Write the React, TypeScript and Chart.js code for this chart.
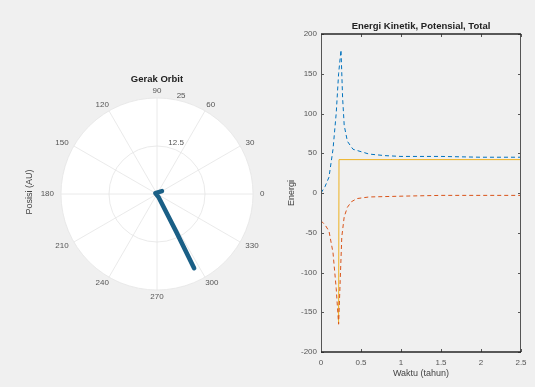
import React, { useEffect, useRef } from 'react';
import { Chart, registerables } from 'chart.js';

Chart.register(...registerables);

// ---------- Polar (orbit) data ----------
const orbitTheta = [30, 150, 297, 297, 296.6];
const orbitR = [1.5, 0.5, 1.0, 11, 21.6];
const polarAngleTicks = [0, 30, 60, 90, 120, 150, 180, 210, 240, 270, 300, 330];
const polarRTicks = [12.5, 25];
const polarRMax = 25;

// ---------- Energy data ----------
const timeK = [0, 0.05, 0.1, 0.15, 0.19, 0.22, 0.25, 0.27, 0.29, 0.33, 0.4, 0.6, 0.8, 1.0, 1.5, 2.0, 2.5];
const energyK = [0, 8, 20, 55, 100, 150, 180, 120, 85, 65, 55, 49, 47, 46, 46, 45, 45];
const timeU = [0, 0.05, 0.1, 0.15, 0.19, 0.22, 0.24, 0.26, 0.29, 0.33, 0.38, 0.45, 0.6, 1.0, 1.5, 2.0, 2.5];
const energyU = [-35, -40, -48, -75, -120, -165, -110, -55, -30, -18, -11, -7, -5, -4, -3, -3, -3];
const timeE = [0.22, 0.225, 0.5, 1.0, 1.5, 2.0, 2.5];
const energyE = [-165, 42, 42, 42, 42, 42, 42];
const xTicks = [0, 0.5, 1, 1.5, 2, 2.5];
const yTicks = [-200, -150, -100, -50, 0, 50, 100, 150, 200];

const FONT = '"Liberation Sans", Arial, Helvetica, sans-serif';

const toXY = (xs: number[], ys: number[]) => xs.map((x, i) => ({ x, y: ys[i] }));

const polarPlugin = {
  id: 'polarGrid',
  beforeDatasetsDraw(chart: any) {
    const { ctx } = chart;
    const sx = chart.scales.x;
    const sy = chart.scales.y;
    const cx = sx.getPixelForValue(0);
    const cy = sy.getPixelForValue(0);
    const R = sx.getPixelForValue(polarRMax) - cx;
    ctx.save();
    ctx.fillStyle = '#ffffff';
    ctx.beginPath();
    ctx.arc(cx, cy, R, 0, Math.PI * 2);
    ctx.fill();
    ctx.strokeStyle = '#e4e4e4';
    ctx.lineWidth = 0.8;
    polarRTicks.forEach((r) => {
      const rp = sx.getPixelForValue(r) - cx;
      ctx.beginPath();
      ctx.arc(cx, cy, rp, 0, Math.PI * 2);
      ctx.stroke();
    });
    polarAngleTicks.forEach((a) => {
      const t = (a * Math.PI) / 180;
      ctx.beginPath();
      ctx.moveTo(cx, cy);
      ctx.lineTo(cx + R * Math.cos(t), cy - R * Math.sin(t));
      ctx.stroke();
    });
    ctx.font = `8px ${FONT}`;
    ctx.fillStyle = '#555555';
    ctx.textAlign = 'center';
    ctx.textBaseline = 'middle';
    polarAngleTicks.forEach((a) => {
      const t = (a * Math.PI) / 180;
      const label = String(a);
      const w = ctx.measureText(label).width;
      const d = R + 7;
      const px = cx + d * Math.cos(t) + (Math.cos(t) * w) / 2;
      const py = cy - d * Math.sin(t);
      ctx.fillText(label, px, py);
    });
    ctx.textAlign = 'left';
    ctx.textBaseline = 'bottom';
    const ra = (80 * Math.PI) / 180;
    polarRTicks.forEach((r) => {
      const rp = sx.getPixelForValue(r) - cx;
      ctx.fillText(String(r), cx + rp * Math.cos(ra) + 3, cy - rp * Math.sin(ra));
    });
    // title
    ctx.fillStyle = '#222222';
    ctx.font = `bold 9.5px ${FONT}`;
    ctx.textAlign = 'center';
    ctx.textBaseline = 'middle';
    ctx.fillText('Gerak Orbit', cx, cy - R - 19);
    // y label
    ctx.font = `9px ${FONT}`;
    ctx.fillStyle = '#444444';
    ctx.translate(30, cy - 2);
    ctx.rotate(-Math.PI / 2);
    ctx.fillText('Posisi (AU)', 0, 0);
    ctx.restore();
  },
};

const boxPlugin = {
  id: 'boxTicks',
  afterDatasetsDraw(chart: any) {
    const { ctx, chartArea: a } = chart;
    const sx = chart.scales.x;
    const sy = chart.scales.y;
    ctx.save();
    ctx.strokeStyle = '#555555';
    ctx.lineWidth = 1;
    ctx.beginPath();
    ctx.moveTo(a.left + 0.5, a.top);
    ctx.lineTo(a.left + 0.5, a.bottom);
    ctx.moveTo(a.right - 0.5, a.top);
    ctx.lineTo(a.right - 0.5, a.bottom);
    yTicks.forEach((v) => {
      const p = Math.round(sy.getPixelForValue(v)) + 0.5;
      ctx.moveTo(a.left, p);
      ctx.lineTo(a.left + 3, p);
      ctx.moveTo(a.right, p);
      ctx.lineTo(a.right - 3, p);
    });
    xTicks.forEach((v) => {
      const p = Math.round(sx.getPixelForValue(v)) + 0.5;
      ctx.moveTo(p, a.bottom);
      ctx.lineTo(p, a.bottom - 3);
      ctx.moveTo(p, a.top);
      ctx.lineTo(p, a.top + 3);
    });
    ctx.stroke();
    ctx.strokeStyle = '#262626';
    ctx.lineWidth = 1.6;
    ctx.beginPath();
    ctx.moveTo(a.left, a.top);
    ctx.lineTo(a.right, a.top);
    ctx.moveTo(a.left, a.bottom);
    ctx.lineTo(a.right, a.bottom);
    ctx.stroke();
    ctx.fillStyle = '#222222';
    ctx.font = `bold 9.5px ${FONT}`;
    ctx.textAlign = 'center';
    ctx.textBaseline = 'middle';
    ctx.fillText('Energi Kinetik, Potensial, Total', (a.left + a.right) / 2, a.top - 8);
    ctx.restore();
  },
};

export default function App() {
  const leftRef = useRef<HTMLCanvasElement>(null);
  const rightRef = useRef<HTMLCanvasElement>(null);

  useEffect(() => {
    const orbit = orbitTheta.map((th, i) => {
      const t = (th * Math.PI) / 180;
      return { x: orbitR[i] * Math.cos(t), y: orbitR[i] * Math.sin(t) };
    });
    const left = new Chart(leftRef.current!, {
      type: 'scatter',
      data: {
        datasets: [
          {
            data: orbit,
            showLine: true,
            borderColor: '#1a5f86',
            borderWidth: 4.5,
            pointRadius: 0,
            borderJoinStyle: 'round',
            borderCapStyle: 'round',
          } as any,
        ],
      },
      options: {
        responsive: false,
        animation: false,
        devicePixelRatio: 1,
        layout: { padding: { left: 61, right: 17, top: 98, bottom: 97 } },
        plugins: { legend: { display: false }, tooltip: { enabled: false } },
        scales: {
          x: { type: 'linear', min: -polarRMax, max: polarRMax, display: false },
          y: { type: 'linear', min: -polarRMax, max: polarRMax, display: false },
        },
      },
      plugins: [polarPlugin],
    });

    const tickFont = { family: FONT, size: 8 };
    const right = new Chart(rightRef.current!, {
      type: 'scatter',
      data: {
        datasets: [
          {
            label: 'Kinetik',
            data: toXY(timeK, energyK),
            showLine: true,
            borderColor: '#0072BD',
            borderWidth: 1,
            borderDash: [4, 3],
            pointRadius: 0,
          },
          {
            label: 'Potensial',
            data: toXY(timeU, energyU),
            showLine: true,
            borderColor: '#D95319',
            borderWidth: 1,
            borderDash: [4, 3],
            pointRadius: 0,
          },
          {
            label: 'Total',
            data: toXY(timeE, energyE),
            showLine: true,
            borderColor: '#EDB120',
            borderWidth: 1,
            pointRadius: 0,
          },
        ] as any,
      },
      options: {
        responsive: false,
        animation: false,
        devicePixelRatio: 1,
        layout: { padding: { left: 0, right: 14, top: 34, bottom: 0 } },
        plugins: { legend: { display: false }, tooltip: { enabled: false } },
        scales: {
          x: {
            type: 'linear',
            min: 0,
            max: 2.5,
            afterBuildTicks: (s: any) => {
              s.ticks = xTicks.map((v) => ({ value: v }));
            },
            afterFit: (s: any) => {
              s.height = 35;
            },
            grid: { display: false, drawTicks: false },
            border: { display: false },
            ticks: {
              font: tickFont,
              color: '#555555',
              padding: 6,
              maxRotation: 0,
              autoSkip: false,
              callback: (v: any) => String(v),
            },
            title: {
              display: true,
              text: 'Waktu (tahun)',
              font: { family: FONT, size: 9 },
              color: '#444444',
              padding: { top: 0, bottom: 8 },
            },
          },
          y: {
            type: 'linear',
            min: -200,
            max: 200,
            afterBuildTicks: (s: any) => {
              s.ticks = yTicks.map((v) => ({ value: v }));
            },
            afterFit: (s: any) => {
              s.width = 51;
            },
            grid: { display: false, drawTicks: false },
            border: { display: false },
            ticks: {
              font: tickFont,
              color: '#555555',
              padding: 4,
              autoSkip: false,
              callback: (v: any) => String(v),
            },
            title: {
              display: true,
              text: 'Energi',
              font: { family: FONT, size: 9 },
              color: '#444444',
              padding: { top: 16, bottom: 0 },
            },
          },
        },
      },
      plugins: [boxPlugin],
    });

    return () => {
      left.destroy();
      right.destroy();
    };
  }, []);

  return (
    <div
      style={{
        position: 'absolute',
        left: 0,
        top: 0,
        width: 535,
        height: 387,
        background: '#f0f0f0',
        overflow: 'hidden',
      }}
    >
      <canvas
        ref={leftRef}
        width={270}
        height={387}
        style={{ position: 'absolute', left: 0, top: 0, width: 270, height: 387 }}
      />
      <canvas
        ref={rightRef}
        width={265}
        height={387}
        style={{ position: 'absolute', left: 270, top: 0, width: 265, height: 387 }}
      />
    </div>
  );
}
